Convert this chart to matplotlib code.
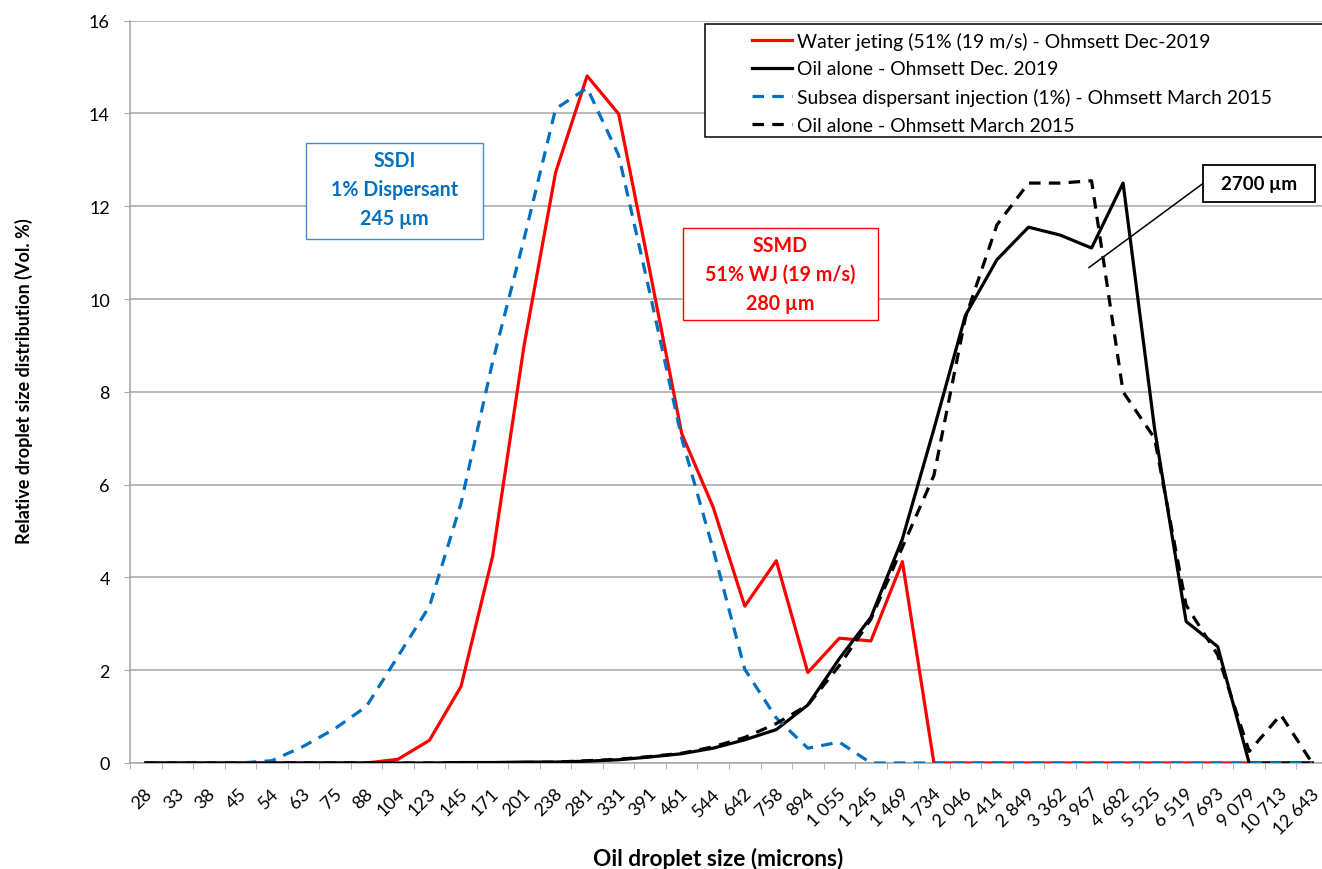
import numpy as np
import matplotlib.pyplot as plt
from matplotlib.patches import Rectangle
from matplotlib.lines import Line2D
from matplotlib.transforms import ScaledTranslation

plt.rcParams['font.family'] = ['Lato', 'DejaVu Sans']

# droplet size classes (microns) shown on the x axis
sizes = ["28", "33", "38", "45", "54", "63", "75", "88", "104", "123", "145", "171",
         "201", "238", "281", "331", "391", "461", "544", "642", "758", "894",
         "1 055", "1 245", "1 469", "1 734", "2 046", "2 414", "2 849", "3 362",
         "3 967", "4 682", "5 525", "6 519", "7 693", "9 079", "10 713", "12 643"]

# relative droplet size distribution (Vol. %)
water_jet = [0, 0, 0, 0, 0, 0, 0, 0, 0.08, 0.49, 1.65, 4.45,
             9.0, 12.73, 14.81, 13.99, 10.57, 7.1, 5.51, 3.38, 4.36, 1.95,
             2.69, 2.63, 4.34, 0, 0, 0, 0, 0,
             0, 0, 0, 0, 0, 0, 0, 0]
oil_dec2019 = [0, 0, 0, 0, 0, 0, 0, 0, 0, 0, 0.01, 0.01,
               0.02, 0.02, 0.04, 0.07, 0.13, 0.2, 0.32, 0.5, 0.72, 1.25,
               2.25, 3.14, 4.83, 7.2, 9.65, 10.85, 11.55, 11.38,
               11.1, 12.5, 7.2, 3.05, 2.51, 0, 0, 0]
ssdi_2015 = [0, 0, 0, 0, 0.05, 0.36, 0.74, 1.22, 2.3, 3.38, 5.6, 8.64,
             11.3, 14.1, 14.55, 13.1, 10.1, 7.0, 4.6, 2.02, 0.97, 0.32,
             0.45, 0, 0, 0, 0, 0, 0, 0,
             0, 0, 0, 0, 0, 0, 0, 0]
oil_mar2015 = [0, 0, 0, 0, 0, 0, 0, 0, 0, 0, 0, 0,
               0.01, 0.02, 0.05, 0.08, 0.14, 0.21, 0.35, 0.55, 0.85, 1.25,
               2.1, 3.1, 4.65, 6.2, 9.6, 11.6, 12.5, 12.5,
               12.55, 8.0, 7.0, 3.4, 2.33, 0.25, 1.04, 0]

labels = ["Water jeting (51% (19 m/s) - Ohmsett Dec-2019",
          "Oil alone - Ohmsett Dec. 2019",
          "Subsea dispersant injection (1%) - Ohmsett March 2015",
          "Oil alone - Ohmsett March 2015"]

W, H = 1322, 870
GRID = '#A6A6A6'
BLUE = '#0070C0'
RED = '#FF0000'

fig = plt.figure(figsize=(W / 100, H / 100), dpi=100)
renderer = fig.canvas.get_renderer()


def size_for(s, target, weight='normal', base=14.0):
    # font size whose rendered width (px) matches the reference
    t = fig.text(0, 0, s, fontsize=base, fontweight=weight)
    w = t.get_window_extent(renderer=renderer).width
    t.remove()
    return base * target / w


fs_leg = size_for(labels[0], 415)
fs_xlab = size_for("Oil droplet size (microns)", 252, 'bold')
fs_ylab = size_for("Relative droplet size distribution (Vol. %)", 326, 'bold')
fs_box = size_for("1% Dispersant", 127, 'bold')

ax = fig.add_axes([130 / W, 1 - 764 / H, 1198 / W, 742.3 / H])

x = np.arange(len(sizes))
dash = (0, (3.6, 2.6))
ax.plot(x, water_jet, color=RED, lw=2.3, zorder=3)
ax.plot(x, oil_dec2019, color='black', lw=2.3, zorder=3)
ax.plot(x, ssdi_2015, color=BLUE, lw=2.3, ls=dash, zorder=3)
ax.plot(x, oil_mar2015, color='black', lw=2.3, ls=dash, zorder=3)

ax.set_xlim(-0.5, len(sizes) - 0.5)
ax.set_ylim(0, 16)
ax.set_yticks(np.arange(0, 17, 2))
ax.grid(axis='y', color=GRID, lw=1.1)
ax.set_axisbelow(True)
for s in ['top', 'right']:
    ax.spines[s].set_visible(False)
for s in ['left', 'bottom']:
    ax.spines[s].set_color(GRID)
    ax.spines[s].set_linewidth(1.1)

ax.tick_params(axis='y', length=4.5, color=GRID, labelsize=13, pad=10)
ax.set_xticks(x)
ax.set_xticklabels(sizes, rotation=45, ha='right', va='center',
                   rotation_mode='anchor', fontsize=13)
ax.tick_params(axis='x', which='major', length=0, pad=20)
ax.set_xticks(np.arange(-0.5, len(sizes)), minor=True)
ax.tick_params(axis='x', which='minor', length=4.5, color=GRID)
shift = ScaledTranslation(4 / 100, 0, fig.dpi_scale_trans)
for lab in ax.get_xticklabels():
    lab.set_transform(lab.get_transform() + shift)

fig.text(24 / W, 1 - 381 / H, "Relative droplet size distribution (Vol. %)",
         rotation=90, ha='center', va='center', fontsize=fs_ylab, fontweight='bold')
fig.text(718 / W, 1 - 859 / H, "Oil droplet size (microns)",
         ha='center', va='center', fontsize=fs_xlab, fontweight='bold')

# text boxes
ax.add_patch(Rectangle((5.08, 11.29), 5.61, 2.07, facecolor='white',
                       edgecolor='#3F8FD2', lw=1, zorder=4))
ax.text(7.89, 12.37, "SSDI\n1% Dispersant\n245 µm", color=BLUE, ha='center',
        va='center', fontsize=fs_box, fontweight='bold', linespacing=1.58, zorder=5)
ax.add_patch(Rectangle((17.04, 9.55), 6.18, 1.98, facecolor='white',
                       edgecolor=RED, lw=1, zorder=4))
ax.text(20.13, 10.54, "SSMD\n51% WJ (19 m/s)\n280 µm", color=RED, ha='center',
        va='center', fontsize=fs_box, fontweight='bold', linespacing=1.58, zorder=5)
ax.plot([29.92, 33.59], [10.68, 12.52], color='black', lw=1.1, zorder=4)
ax.add_patch(Rectangle((33.53, 12.09), 3.55, 0.8, facecolor='white',
                       edgecolor='black', lw=1.3, zorder=4))
ax.text(35.3, 12.49, "2700 µm", ha='center', va='center', fontsize=13.5,
        fontweight='bold', zorder=5)

# legend with a manual frame
fig.patches.append(Rectangle((705 / W, 1 - 137.7 / H), 630 / W, 112.7 / H,
                             transform=fig.transFigure, facecolor='white',
                             edgecolor='black', lw=1.1, zorder=4))
handles = [Line2D([], [], color=RED, lw=2.3),
           Line2D([], [], color='black', lw=2.3),
           Line2D([], [], color=BLUE, lw=2.3, ls=dash),
           Line2D([], [], color='black', lw=2.3, ls=dash)]
fs_px = fs_leg * 100 / 72
fig.legend(handles, labels, loc='upper left',
           bbox_to_anchor=(752 / W, 1 - 32.5 / H), frameon=False, fontsize=fs_leg,
           borderpad=0, borderaxespad=0, handlelength=40 / fs_px,
           handletextpad=5 / fs_px, labelspacing=10.8 / fs_px)

fig.savefig("out.png", dpi=100)
